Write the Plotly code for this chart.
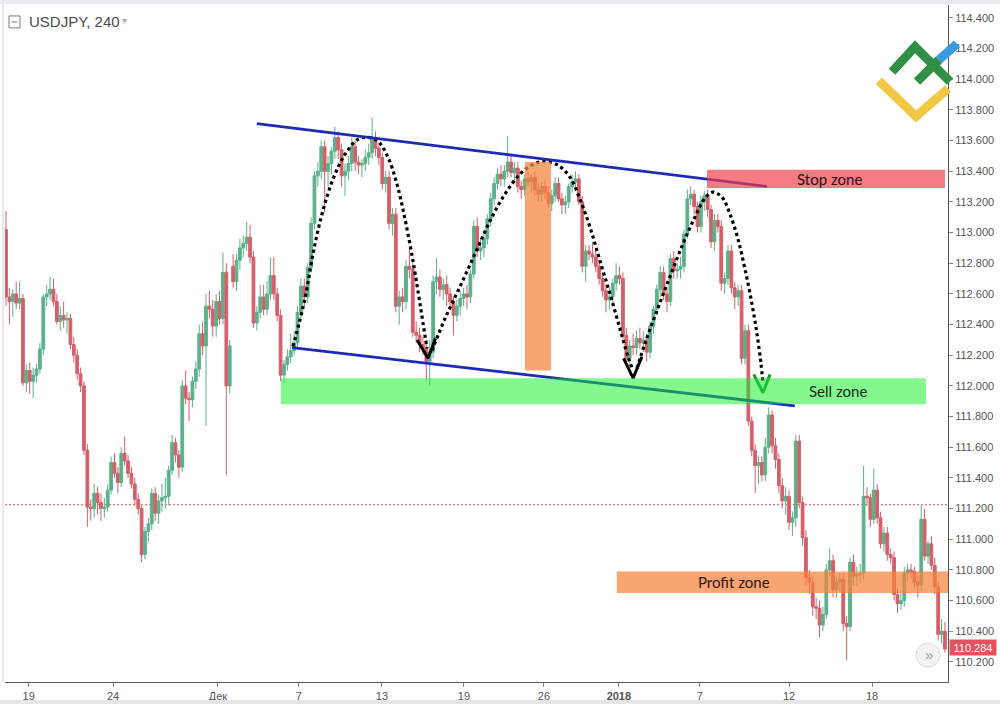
import plotly.graph_objects as go

# ---------------- data (USDJPY, 4h candles) ----------------
opens = [
113.02,112.58,112.55,112.60,112.54,112.57,112.02,112.10,112.03,112.07,
112.11,112.24,112.58,112.60,112.63,112.55,112.42,112.46,112.43,112.44,
112.27,112.20,112.08,112.00,111.58,111.21,111.20,111.30,111.24,111.20,
111.21,111.32,111.50,111.43,111.37,111.56,111.51,111.43,111.36,111.26,
111.20,110.90,111.05,111.10,111.30,111.17,111.25,111.27,111.28,111.45,
111.63,111.55,111.47,112.00,111.92,111.91,112.03,112.11,112.34,112.26,
112.52,112.50,112.39,112.55,112.44,112.74,112.00,112.78,112.68,112.82,
112.90,112.93,112.97,112.84,112.41,112.48,112.58,112.50,112.60,112.72,
112.60,112.46,112.07,112.14,112.19,112.23,112.28,112.48,112.65,112.58,
112.77,113.06,113.37,113.40,113.56,113.40,113.45,113.53,113.62,113.54,
113.37,113.40,113.45,113.56,113.46,113.44,113.45,113.49,113.52,113.61,
113.55,113.49,113.32,113.36,113.06,113.12,112.52,112.58,112.55,112.78,
112.76,112.35,112.33,112.27,112.25,112.16,112.22,112.68,112.71,112.63,
112.66,112.60,112.55,112.46,112.52,112.57,112.60,112.58,112.73,113.04,
112.88,112.90,112.96,113.09,113.22,113.32,113.38,113.35,113.40,113.46,
113.39,113.42,113.30,113.28,113.35,113.33,113.36,113.28,113.25,113.30,
113.26,113.19,113.24,113.32,113.22,113.18,113.20,113.30,113.33,113.35,
113.20,112.78,112.88,112.86,112.84,112.78,112.70,112.62,112.56,112.58,
112.67,112.72,112.70,112.33,112.18,112.26,112.25,112.31,112.28,112.30,
112.22,112.39,112.50,112.63,112.74,112.60,112.55,112.83,112.75,112.76,
112.78,112.99,113.22,113.25,113.17,113.04,113.20,113.24,113.15,112.94,
113.08,113.04,112.67,112.70,112.88,112.64,112.58,112.62,112.18,112.36,
111.77,111.58,111.48,111.50,111.42,111.60,111.81,111.61,111.52,111.35,
111.25,111.28,111.11,111.14,111.64,111.24,111.01,110.75,110.72,110.56,
110.55,110.44,110.51,110.80,110.86,110.67,110.72,110.74,110.45,110.43,
110.85,110.76,110.77,110.78,111.28,111.27,111.13,111.32,111.14,110.97,
111.04,110.90,110.88,110.64,110.58,110.60,110.78,110.80,110.79,110.72,
110.70,111.13,110.89,110.97,110.83,110.69,110.38,110.40]

highs = [
113.14,112.64,112.63,112.68,112.68,112.60,112.14,112.15,112.12,112.14,
112.28,112.60,112.66,112.71,112.70,112.60,112.52,112.55,112.48,112.47,
112.32,112.24,112.12,112.03,111.62,111.26,111.36,111.34,111.30,111.27,
111.36,111.54,111.56,111.47,111.60,111.67,111.55,111.47,111.40,111.30,
111.22,111.08,111.14,111.33,111.34,111.29,111.36,111.40,111.48,111.68,
111.66,111.58,112.04,112.10,111.96,112.06,112.16,112.40,112.42,112.60,
112.62,112.56,112.60,112.62,112.87,112.80,112.30,112.86,112.86,112.96,
112.98,113.07,113.05,112.88,112.52,112.66,112.66,112.68,112.84,112.84,
112.64,112.50,112.17,112.24,112.34,112.36,112.52,112.70,112.70,112.80,
113.10,113.40,113.46,113.60,113.60,113.50,113.56,113.69,113.66,113.58,
113.45,113.50,113.62,113.60,113.50,113.48,113.54,113.58,113.75,113.66,
113.58,113.52,113.40,113.40,113.16,113.16,112.62,112.64,112.82,112.90,
112.80,112.42,112.38,112.32,112.30,112.30,112.72,112.83,112.76,112.70,
112.72,112.64,112.58,112.56,112.62,112.64,112.66,112.76,113.08,113.10,
112.96,113.00,113.12,113.26,113.36,113.42,113.44,113.44,113.63,113.50,
113.46,113.46,113.34,113.38,113.40,113.38,113.40,113.32,113.33,113.34,
113.30,113.28,113.36,113.36,113.26,113.24,113.32,113.38,113.40,113.38,
113.24,112.92,112.92,112.94,112.90,112.82,112.74,112.66,112.64,112.70,
112.80,112.78,112.74,112.38,112.30,112.34,112.36,112.38,112.36,112.34,
112.42,112.52,112.66,112.78,112.78,112.64,112.86,112.88,112.80,112.84,
113.02,113.28,113.30,113.28,113.20,113.24,113.27,113.28,113.18,113.12,
113.12,113.08,112.74,112.92,112.92,112.68,112.66,112.66,112.40,112.40,
111.80,111.62,111.54,111.54,111.66,111.86,111.84,111.66,111.56,111.40,
111.34,111.32,111.18,111.68,111.68,111.28,111.06,110.80,110.76,110.62,
110.60,110.56,110.84,110.94,110.90,110.76,110.78,110.78,110.50,110.88,
110.90,110.82,110.84,111.48,111.34,111.30,111.46,111.36,111.18,111.08,
111.08,110.94,110.92,110.68,110.66,110.82,110.84,110.84,110.82,110.76,
111.22,111.20,110.99,111.02,110.88,110.72,110.48,110.46]

lows = [
112.52,112.40,112.45,112.50,112.50,112.00,111.96,111.95,111.92,112.02,
112.08,112.20,112.52,112.56,112.52,112.40,112.36,112.38,112.34,112.24,
112.15,112.04,111.96,111.55,111.08,111.12,111.14,111.16,111.12,111.14,
111.18,111.29,111.40,111.30,111.34,111.48,111.40,111.33,111.22,111.16,
110.85,110.87,110.98,111.06,111.12,111.10,111.18,111.20,111.22,111.42,
111.50,111.40,111.44,111.88,111.77,111.86,111.98,112.06,112.20,111.74,
112.44,112.32,112.32,112.40,112.40,111.42,111.95,112.64,112.62,112.76,
112.84,112.88,112.80,112.38,112.36,112.44,112.46,112.46,112.56,112.56,
112.42,112.03,112.02,112.10,112.15,112.20,112.24,112.44,112.52,112.54,
112.74,113.02,113.30,113.35,113.13,113.30,113.38,113.48,113.48,113.30,
113.24,113.34,113.40,113.40,113.38,113.36,113.40,113.44,113.48,113.50,
113.44,113.28,113.26,113.02,112.98,112.48,112.40,112.48,112.50,112.70,
112.32,112.28,112.22,112.20,112.04,112.00,112.18,112.60,112.58,112.56,
112.52,112.50,112.33,112.42,112.46,112.52,112.50,112.54,112.70,112.84,
112.82,112.84,112.92,113.04,113.18,113.28,113.30,113.30,113.36,113.36,
113.32,113.26,113.22,113.24,113.30,113.26,113.24,113.20,113.20,113.22,
113.16,113.14,113.20,113.20,113.12,113.12,113.16,113.26,113.28,113.18,
112.74,112.68,112.82,112.80,112.74,112.66,112.58,112.48,112.50,112.54,
112.62,112.66,112.30,112.12,112.12,112.20,112.20,112.24,112.22,112.16,
112.18,112.34,112.46,112.58,112.56,112.48,112.52,112.70,112.70,112.70,
112.74,112.96,113.18,113.12,113.00,113.00,113.14,113.10,112.90,112.88,
113.00,112.62,112.60,112.66,112.60,112.50,112.52,112.14,112.14,111.74,
111.54,111.30,111.36,111.38,111.38,111.56,111.56,111.46,111.30,111.20,
111.16,111.06,111.02,111.08,111.20,110.96,110.70,110.64,110.50,110.48,
110.36,110.40,110.48,110.76,110.62,110.62,110.66,110.40,110.21,110.40,
110.70,110.70,110.72,110.74,111.22,111.08,111.10,111.10,110.94,110.92,
110.86,110.84,110.60,110.52,110.54,110.56,110.72,110.74,110.68,110.62,
110.66,110.86,110.84,110.80,110.64,110.34,110.32,110.26]

closes = [
112.58,112.55,112.60,112.54,112.57,112.02,112.10,112.03,112.07,112.11,
112.24,112.58,112.60,112.63,112.55,112.42,112.46,112.43,112.44,112.27,
112.20,112.08,112.00,111.58,111.21,111.20,111.30,111.24,111.20,111.21,
111.32,111.50,111.43,111.37,111.56,111.51,111.43,111.36,111.26,111.20,
110.90,111.05,111.10,111.30,111.17,111.25,111.27,111.28,111.45,111.63,
111.55,111.47,112.00,111.92,111.91,112.03,112.11,112.34,112.26,112.52,
112.50,112.39,112.55,112.44,112.74,112.00,112.26,112.68,112.82,112.90,
112.93,112.97,112.84,112.41,112.48,112.58,112.50,112.60,112.72,112.60,
112.46,112.07,112.14,112.19,112.23,112.28,112.48,112.65,112.58,112.77,
113.06,113.37,113.40,113.56,113.40,113.45,113.53,113.62,113.54,113.37,
113.40,113.45,113.56,113.46,113.44,113.45,113.49,113.52,113.61,113.55,
113.49,113.32,113.36,113.06,113.12,112.52,112.58,112.55,112.78,112.76,
112.35,112.33,112.27,112.25,112.16,112.22,112.68,112.71,112.63,112.66,
112.60,112.55,112.46,112.52,112.57,112.60,112.58,112.73,113.04,112.88,
112.90,112.96,113.09,113.22,113.32,113.38,113.35,113.40,113.46,113.39,
113.42,113.30,113.28,113.35,113.33,113.36,113.28,113.25,113.30,113.26,
113.19,113.24,113.32,113.22,113.18,113.20,113.30,113.33,113.35,113.20,
112.78,112.88,112.86,112.84,112.78,112.70,112.62,112.56,112.58,112.67,
112.72,112.70,112.33,112.18,112.26,112.25,112.31,112.28,112.30,112.22,
112.39,112.50,112.63,112.74,112.60,112.55,112.83,112.75,112.76,112.78,
112.99,113.22,113.25,113.17,113.04,113.20,113.24,113.15,112.94,113.08,
113.04,112.67,112.70,112.88,112.64,112.58,112.62,112.18,112.36,111.77,
111.58,111.48,111.50,111.42,111.60,111.81,111.61,111.52,111.35,111.25,
111.28,111.11,111.14,111.64,111.24,111.01,110.75,110.72,110.56,110.55,
110.44,110.51,110.80,110.86,110.67,110.72,110.74,110.45,110.43,110.85,
110.76,110.77,110.78,111.28,111.27,111.13,111.32,111.14,110.97,111.04,
110.90,110.88,110.64,110.58,110.60,110.78,110.80,110.79,110.72,110.70,
111.13,110.89,110.97,110.83,110.69,110.38,110.40,110.284]

assert len(opens) == len(highs) == len(lows) == len(closes) == 278
candle_idx = list(range(len(closes)))

# time axis labels (positions in candle index units)
time_tick_pos = [6.7, 31.6, 62.5, 86.4, 110.9, 135.1, 158.7, 180.8, 204.7, 231.0, 255.5]
time_tick_text = ["19", "24", "Дек", "7", "13", "19", "26", "<b>2018</b>", "7", "12", "18"]

price_ticks = [110.2, 110.4, 110.6, 110.8, 111.0, 111.2, 111.4, 111.6, 111.8, 112.0, 112.2,
               112.4, 112.6, 112.8, 113.0, 113.2, 113.4, 113.6, 113.8, 114.0, 114.2, 114.4]
last_price = 110.284
level_line = 111.225

# drawing objects (candle index, price)
upper_line_x = [74.0, 224.5]
upper_line_y = [113.71, 113.30]
lower_line_x = [84.4, 232.7]
lower_line_y = [112.25, 111.87]

stop_zone = dict(x=[206.8, 277.0], y=[113.29, 113.41], label="Stop zone", label_x=242.8)
sell_zone = dict(x=[81.1, 271.4], y=[111.88, 112.05], label="Sell zone", label_x=245.4)
profit_zone = dict(x=[180.2, 277.9], y=[110.65, 110.79], label="Profit zone", label_x=214.7)
orange_bar = dict(x=[153.1, 160.8], y=[112.10, 113.46])

arc1_x = [84.66, 88.2, 90.56, 93.22, 96.46, 100.0, 103.83, 106.78, 109.73, 112.68, 115.34, 117.7, 120.06, 122.12, 124.19]
arc1_y = [112.257, 112.569, 112.861, 113.121, 113.348, 113.51, 113.608, 113.621, 113.595, 113.491, 113.316, 113.088, 112.816, 112.536, 112.244]
arc2_x = [125.66, 129.5, 133.92, 138.35, 142.77, 147.2, 151.62, 155.46, 159.0, 162.83, 166.37, 169.32, 172.27, 175.22, 178.17, 181.12, 183.48, 184.96]
arc2_y = [112.231, 112.439, 112.647, 112.861, 113.075, 113.251, 113.381, 113.445, 113.465, 113.439, 113.361, 113.218, 113.036, 112.816, 112.601, 112.374, 112.192, 112.101]
arc3_x = [186.14, 188.5, 192.04, 195.87, 199.71, 203.24, 206.19, 208.55, 211.21, 213.57, 215.93, 217.99, 220.06, 221.53, 222.71, 223.3]
arc3_y = [112.114, 112.277, 112.491, 112.712, 112.926, 113.101, 113.225, 113.264, 113.231, 113.121, 112.958, 112.764, 112.536, 112.342, 112.147, 112.023]
arrow1_x = [121.3, 124.5, 126.7]
arrow1_y = [112.30, 112.18, 112.31]
arrow2_x = [182.2, 185.0, 187.6]
arrow2_y = [112.18, 112.05, 112.19]
arrow3_x = [220.6, 223.3, 225.4]
arrow3_y = [112.075, 111.955, 112.075]

UP = "#5cb08a"
DOWN = "#d55f69"
BLUE = "#1c2ab6"

# ---------------- figure ----------------
W, H = 1000, 707
ML, MR, MT, MB = 5, 52, 5, 22
PW, PH = W - ML - MR, H - MT - MB


def px(xp):
    return (xp - ML) / PW


def py(yp):
    return (H - MB - yp) / PH


fig = go.Figure()
fig.add_trace(go.Candlestick(
    x=candle_idx, open=opens, high=highs, low=lows, close=closes,
    increasing=dict(line=dict(color=UP, width=1), fillcolor=UP),
    decreasing=dict(line=dict(color=DOWN, width=1), fillcolor=DOWN),
    whiskerwidth=0, hoverinfo="skip", showlegend=False))

for ax_, ay_ in [(arc1_x, arc1_y), (arc2_x, arc2_y), (arc3_x, arc3_y)]:
    fig.add_trace(go.Scatter(x=ax_, y=ay_, mode="lines", hoverinfo="skip", showlegend=False,
                             line=dict(color="#000000", width=3.2, dash="dot", shape="spline", smoothing=1.0)))
for ax_, ay_, col in [(arrow1_x, arrow1_y, "#000000"), (arrow2_x, arrow2_y, "#000000"), (arrow3_x, arrow3_y, "#159a28")]:
    fig.add_trace(go.Scatter(x=ax_, y=ay_, mode="lines", hoverinfo="skip", showlegend=False,
                             line=dict(color=col, width=3)))

shapes = []
# horizontal dotted level
shapes.append(dict(type="line", xref="paper", yref="y", x0=0, x1=1, y0=level_line, y1=level_line,
                   line=dict(color="#e0484f", width=1, dash="2px,2px"), layer="below"))
# trend lines
shapes.append(dict(type="line", xref="x", yref="y", x0=upper_line_x[0], x1=upper_line_x[1],
                   y0=upper_line_y[0], y1=upper_line_y[1], line=dict(color=BLUE, width=2.8), layer="above"))
shapes.append(dict(type="line", xref="x", yref="y", x0=lower_line_x[0], x1=lower_line_x[1],
                   y0=lower_line_y[0], y1=lower_line_y[1], line=dict(color=BLUE, width=2.8), layer="above"))
# zones
for zone, fill in [(orange_bar, "rgba(247,130,60,0.72)"), (stop_zone, "rgba(240,60,72,0.68)"),
                   (sell_zone, "rgba(20,240,40,0.52)"), (profit_zone, "rgba(247,130,60,0.72)")]:
    shapes.append(dict(type="rect", xref="x", yref="y", x0=zone["x"][0], x1=zone["x"][1],
                       y0=zone["y"][0], y1=zone["y"][1], fillcolor=fill,
                       line=dict(width=0), layer="above"))

# chrome: top band, left border, bottom band
shapes.append(dict(type="rect", xref="paper", yref="paper", x0=px(0), x1=px(1000), y0=py(0), y1=py(4),
                   fillcolor="#e9eaee", line=dict(width=0), layer="above"))
shapes.append(dict(type="line", xref="paper", yref="paper", x0=px(3), x1=px(3), y0=py(4), y1=py(685),
                   line=dict(color="#cfcfcf", width=1), layer="above"))
shapes.append(dict(type="rect", xref="paper", yref="paper", x0=px(0), x1=px(1000), y0=py(703), y1=py(707),
                   fillcolor="#e6e6e6", line=dict(width=0), layer="above"))
# title icon
shapes.append(dict(type="rect", xref="paper", yref="paper", x0=px(9), x1=px(20), y0=py(28), y1=py(16),
                   line=dict(color="#7a7a7a", width=1), fillcolor="rgba(0,0,0,0)", layer="above"))
shapes.append(dict(type="line", xref="paper", yref="paper", x0=px(11.5), x1=px(17.5), y0=py(22), y1=py(22),
                   line=dict(color="#7a7a7a", width=1), layer="above"))
# scroll button
shapes.append(dict(type="circle", xref="paper", yref="paper", x0=px(916), x1=px(940), y0=py(670), y1=py(646),
                   fillcolor="#f3f3f3", line=dict(color="#d9d9d9", width=1), layer="above"))


# logo
def path_px(points):
    s = ""
    for k, (a, b) in enumerate(points):
        s += ("M" if k == 0 else "L") + f"{px(a):.5f},{py(b):.5f} "
    return s.strip()


logo_strokes = [
    ([(879, 81), (916, 117), (948, 89)], "#f2c744"),
    ([(892, 72), (915, 47), (950, 82)], "#2f8f45"),
    ([(917, 82), (939, 60)], "#2f8f45"),
    ([(939, 60), (957, 44)], "#3c98e2"),
]
for pts, col in logo_strokes:
    shapes.append(dict(type="path", xref="paper", yref="paper", path=path_px(pts),
                       line=dict(color=col, width=9), layer="above"))

annotations = [
    dict(xref="paper", yref="paper", x=px(27), y=py(22), text="USDJPY, 240", showarrow=False,
         xanchor="left", yanchor="middle", font=dict(family="Arial", size=15, color="#4a4a4a")),
    dict(xref="paper", yref="paper", x=px(120), y=py(21), text="▾", showarrow=False,
         xanchor="left", yanchor="middle", font=dict(family="Arial", size=10, color="#b0b0b0")),
    dict(xref="paper", yref="paper", x=px(949), y=py(650.5), text=f"{last_price:.3f}", showarrow=False,
         xanchor="left", yanchor="middle", bgcolor="#e3525e", borderpad=1, width=44, height=13,
         font=dict(family="Arial", size=11, color="#ffffff")),
    dict(xref="paper", yref="paper", x=px(928.5), y=py(657.5), text="»", showarrow=False,
         xanchor="center", yanchor="middle",
         font=dict(family="Arial", size=15, color="#9a9a9a")),
]
for zone, col in [(stop_zone, "#2a1010"), (sell_zone, "#0f2a12"), (profit_zone, "#2b1508")]:
    annotations.append(dict(xref="x", yref="y", x=zone["label_x"], y=sum(zone["y"]) / 2,
                            text=zone["label"], showarrow=False,
                            font=dict(family="Lato", size=15, color=col)))

fig.update_layout(
    width=W, height=H,
    margin=dict(l=ML, r=MR, t=MT, b=MB),
    paper_bgcolor="#ffffff", plot_bgcolor="#ffffff",
    showlegend=False, shapes=shapes, annotations=annotations,
    boxgap=0.1, boxgroupgap=0.1,
    xaxis=dict(range=[-0.3, 277.9], tickvals=time_tick_pos, ticktext=time_tick_text,
               showgrid=False, zeroline=False, showline=True, linecolor="#555555", linewidth=1,
               ticks="outside", ticklen=4, tickcolor="#888888",
               tickfont=dict(family="Arial", size=11, color="#555555"),
               rangeslider=dict(visible=False), fixedrange=True),
    yaxis=dict(side="right", range=[110.069, 114.484], tickvals=price_ticks,
               ticktext=[f"{v:.3f}" for v in price_ticks],
               showgrid=False, zeroline=False, showline=True, linecolor="#555555", linewidth=1,
               ticks="outside", ticklen=4, tickcolor="#888888",
               tickfont=dict(family="Arial", size=11, color="#555555"), fixedrange=True),
)

fig.write_html("out.html", config={"displayModeBar": False},
               post_script="document.body.style.margin='0';document.body.style.padding='0';")
